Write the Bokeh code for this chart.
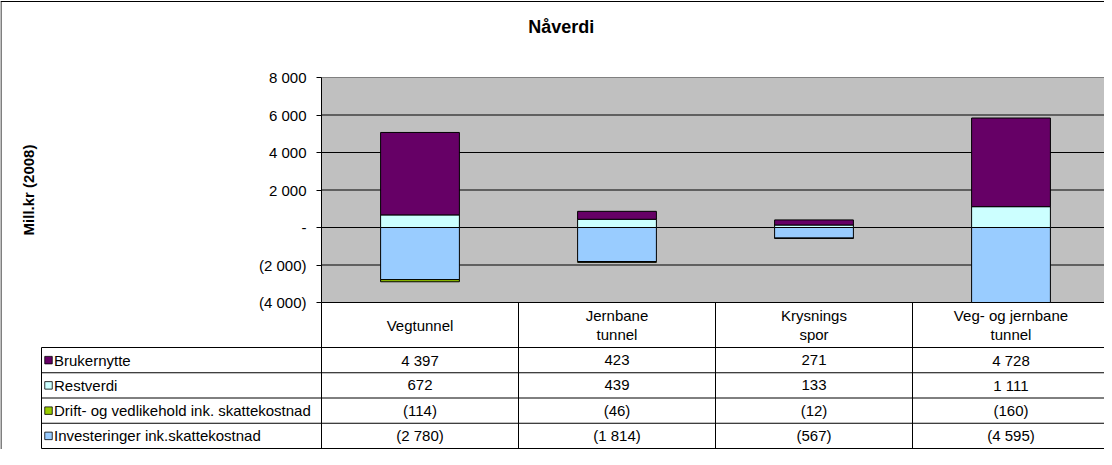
import numpy as np
from math import pi
from bokeh.plotting import figure
from bokeh.models import Range1d, LinearAxis, FixedTicker
from bokeh.core.properties import value
from bokeh.embed import file_html
from bokeh.resources import INLINE

# ---------------- data ----------------
categories = ["Vegtunnel", "Jernbane\ntunnel", "Krysnings\nspor", "Veg- og jernbane\ntunnel"]
series_names = ["Brukernytte", "Restverdi",
                "Drift- og vedlikehold ink. skattekostnad",
                "Investeringer ink.skattekostnad"]
brukernytte = [4397, 423, 271, 4728]
restverdi = [672, 439, 133, 1111]
drift = [-114, -46, -12, -160]
investeringer = [-2780, -1814, -567, -4595]
series_colors = ["#660066", "#CCFFFF", "#99CC00", "#99CCFF"]
y_ticks = [-4000, -2000, 0, 2000, 4000, 6000, 8000]
title_text = "Nåverdi"
y_label = "Mill.kr (2008)"


def fmt(v):
    s = f"{abs(v):,}".replace(",", " ")
    if v == 0:
        return "-"
    return f"({s})" if v < 0 else s


# ---------------- layout (canvas px) ----------------
W, H = 1104, 449
FONT = "Liberation Sans"
PLOT_LEFT = 321
COL_W = 197
Y_TOP_PX, Y_BOT_PX = 77, 302
Y_MIN, Y_MAX = y_ticks[0], y_ticks[-1]
HEADER_BOTTOM = 347
ROW_H = 25.25
TABLE_LEFT = 41

px_per_val = (Y_BOT_PX - Y_TOP_PX) / (Y_MAX - Y_MIN)
val_top = Y_MAX + Y_TOP_PX / px_per_val
val_bottom = Y_MIN - (H - Y_BOT_PX) / px_per_val
cat_start = -PLOT_LEFT / COL_W
cat_end = (W - PLOT_LEFT) / COL_W

p = figure(width=W, height=H, output_backend="svg", toolbar_location=None, title=None,
           x_range=Range1d(0, W), y_range=Range1d(H, 0),
           x_axis_type=None, y_axis_type=None, min_border=0)
p.min_border_left = p.min_border_right = p.min_border_top = p.min_border_bottom = 0
p.outline_line_color = None
p.background_fill_color = "white"
p.border_fill_color = "white"
p.extra_x_ranges = {"cat": Range1d(cat_start, cat_end)}
p.extra_y_ranges = {"val": Range1d(val_bottom, val_top)}

n = len(categories)
xc = np.arange(n) + 0.5

# plot area background
p.quad(left=[0], right=[cat_end], bottom=[Y_MIN], top=[Y_MAX],
       x_range_name="cat", y_range_name="val", fill_color="#C0C0C0", line_color=None)

# gridlines
inner = [t for t in y_ticks if Y_MIN < t < Y_MAX]
p.segment(x0=[0] * len(inner), x1=[cat_end] * len(inner), y0=inner, y1=inner,
          x_range_name="cat", y_range_name="val", line_color="black", line_width=1)
p.segment(x0=[0], x1=[cat_end], y0=[Y_MAX], y1=[Y_MAX],
          x_range_name="cat", y_range_name="val", line_color="#808080", line_width=1)
p.segment(x0=[0], x1=[cat_end], y0=[Y_MIN], y1=[Y_MIN],
          x_range_name="cat", y_range_name="val", line_color="black", line_width=1)

# stacked bars
series = [brukernytte, restverdi, drift, investeringer]
stack_order = [1, 0, 3, 2]
pos = np.zeros(n)
neg = np.zeros(n)
for i in stack_order:
    v = np.array(series[i], dtype=float)
    base = np.where(v >= 0, pos, neg)
    end = base + v
    pos = np.where(v >= 0, end, pos)
    neg = np.where(v < 0, end, neg)
    lo = np.clip(np.minimum(base, end), Y_MIN, Y_MAX)
    hi = np.clip(np.maximum(base, end), Y_MIN, Y_MAX)
    keep = hi > lo
    p.vbar(x=xc[keep], width=0.4, bottom=lo[keep], top=hi[keep],
           x_range_name="cat", y_range_name="val",
           fill_color=series_colors[i], line_color="black", line_width=1)

# value axis
yaxis = LinearAxis(y_range_name="val", fixed_location=PLOT_LEFT, bounds=(Y_MIN, Y_MAX),
                   ticker=FixedTicker(ticks=y_ticks, minor_ticks=[]))
yaxis.major_label_overrides = {t: fmt(t) for t in y_ticks}
yaxis.major_tick_in = 0
yaxis.major_tick_out = 5
yaxis.minor_tick_line_color = None
yaxis.axis_line_color = "black"
yaxis.major_tick_line_color = "black"
yaxis.major_label_text_font = FONT
yaxis.major_label_text_font_size = "15px"
yaxis.major_label_text_color = "black"
yaxis.major_label_standoff = 10
p.add_layout(yaxis, "left")

# data table grid
row_lines = [HEADER_BOTTOM + k * ROW_H for k in range(len(series) + 1)]
table_bottom = row_lines[-1]
p.segment(x0=[TABLE_LEFT] * len(row_lines), x1=[W] * len(row_lines), y0=row_lines, y1=row_lines,
          line_color="black", line_width=1)
p.segment(x0=[TABLE_LEFT, PLOT_LEFT], x1=[TABLE_LEFT, PLOT_LEFT],
          y0=[HEADER_BOTTOM, Y_BOT_PX], y1=[table_bottom, table_bottom],
          line_color="black", line_width=1)
seps = list(range(1, n))
p.segment(x0=seps, x1=seps, y0=[Y_BOT_PX] * len(seps), y1=[table_bottom] * len(seps),
          x_range_name="cat", line_color="black", line_width=1)

# outer chart frame (left and top)
p.segment(x0=[0.5, 0], x1=[0.5, W], y0=[1, 1], y1=[H, 1], line_color="black", line_width=1)

# texts
p.text(x=[560.8], y=[26], text=[title_text], text_font=value(FONT), text_font_size="18px",
       text_font_style="bold", text_align="center", text_baseline="middle", text_color="black")
p.text(x=[28], y=[(Y_TOP_PX + Y_BOT_PX) / 2], text=[y_label], angle=pi / 2,
       text_font=value(FONT), text_font_size="15px", text_font_style="bold",
       text_align="center", text_baseline="middle", text_color="black")

header_mid = (Y_BOT_PX + HEADER_BOTTOM) / 2
p.text(x=xc, y=[header_mid] * n, text=categories, x_range_name="cat",
       text_font=value(FONT), text_font_size="15px", text_align="center",
       text_baseline="middle", text_line_height=1.12, text_color="black")

row_mid = [(row_lines[k] + row_lines[k + 1]) / 2 for k in range(len(series))]
p.scatter(x=[48] * len(series), y=row_mid, marker="square", size=7.5,
          fill_color=series_colors, line_color="black", line_width=0.8)
p.text(x=[53.5] * len(series), y=row_mid, text=series_names,
       text_font=value(FONT), text_font_size="15px", text_align="left",
       text_baseline="middle", text_color="black")
for k, vals in enumerate(series):
    p.text(x=xc, y=[row_mid[k]] * n, text=[fmt(v) for v in vals], x_range_name="cat",
           text_font=value(FONT), text_font_size="15px", text_align="center",
           text_baseline="middle", text_color="black")

open("out.html", "w").write(file_html(p, INLINE))
